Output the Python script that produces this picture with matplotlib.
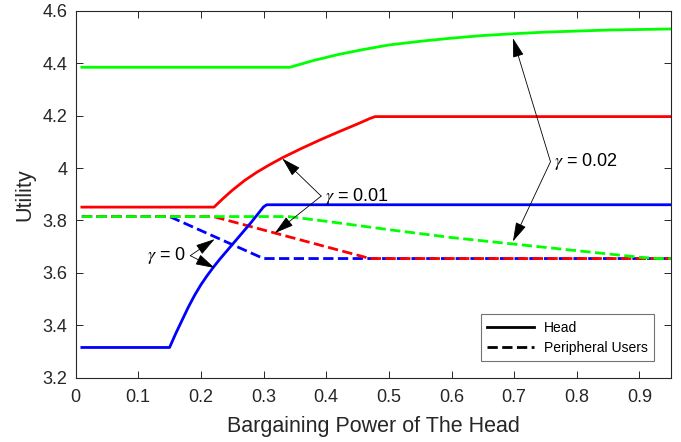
import numpy as np
import matplotlib.pyplot as plt

plt.rcParams['font.family'] = ['Liberation Sans', 'DejaVu Sans']
plt.rcParams['mathtext.fontset'] = 'stix'

# Head utility (solid lines)
x_g0 = [0.01, 0.15, 0.16, 0.17, 0.18, 0.19, 0.20, 0.21, 0.22, 0.23, 0.24,
        0.25, 0.26, 0.27, 0.28, 0.29, 0.30, 0.305, 0.95]
head_g0 = [3.316, 3.316, 3.37, 3.42, 3.47, 3.515, 3.555, 3.59, 3.622, 3.652, 3.68,
           3.708, 3.736, 3.764, 3.792, 3.822, 3.852, 3.86, 3.86]

x_g1 = [0.01, 0.221, 0.235, 0.25, 0.27, 0.29, 0.31, 0.33, 0.36, 0.39, 0.42,
        0.45, 0.47, 0.478, 0.95]
head_g1 = [3.851, 3.851, 3.883, 3.915, 3.953, 3.985, 4.013, 4.039, 4.074, 4.107, 4.138,
           4.168, 4.189, 4.196, 4.196]

x_g2 = [0.01, 0.342, 0.38, 0.42, 0.46, 0.50, 0.55, 0.60, 0.65, 0.70, 0.75, 0.80, 0.85, 0.90, 0.95]
head_g2 = [4.384, 4.384, 4.41, 4.433, 4.452, 4.469, 4.483, 4.495, 4.505, 4.512, 4.518, 4.522, 4.526, 4.528, 4.53]

# Peripheral users utility (dashed lines)
x_p0 = [0.01, 0.15, 0.30, 0.95]
per_g0 = [3.815, 3.815, 3.655, 3.655]

x_p1 = [0.01, 0.22, 0.47, 0.95]
per_g1 = [3.815, 3.815, 3.655, 3.655]

x_p2 = [0.01, 0.34, 0.40, 0.50, 0.60, 0.70, 0.80, 0.90, 0.93, 0.95]
per_g2 = [3.815, 3.815, 3.797, 3.765, 3.735, 3.71, 3.685, 3.66, 3.655, 3.655]

fig = plt.figure(figsize=(6.81, 4.42), dpi=100)
ax = fig.add_axes([0.111, 0.145, 0.874, 0.831])

# dashed first so the solid curves sit on top
ax.plot(x_p0, per_g0, color=(0, 0, 1), lw=2, linestyle='--')
ax.plot(x_p1, per_g1, color=(1, 0, 0), lw=2, linestyle='--')
ax.plot(x_p2, per_g2, color=(0, 1, 0), lw=2, linestyle='--')
ax.plot(x_g2, head_g2, color=(0, 1, 0), lw=2)
ax.plot(x_g1, head_g1, color=(1, 0, 0), lw=2)
ax.plot(x_g0, head_g0, color=(0, 0, 1), lw=2)

# legend uses black proxy lines
ax.plot([], [], color='k', lw=2, label='Head')
ax.plot([], [], color='k', lw=2, linestyle='--', label='Peripheral Users')
leg = ax.legend(loc='lower right', fontsize=10, fancybox=False, framealpha=1,
                borderaxespad=1.2, handlelength=3.4, labelspacing=0.45,
                handletextpad=0.7, borderpad=0.45)
leg.get_frame().set_edgecolor('0.45')
leg.get_frame().set_linewidth(0.8)

ax.set_xlim(0, 0.95)
ax.set_ylim(3.2, 4.6)
ax.set_xticks(np.arange(0, 0.91, 0.1))
ax.set_xticklabels(['0', '0.1', '0.2', '0.3', '0.4', '0.5', '0.6', '0.7', '0.8', '0.9'])
ax.set_yticks([3.2, 3.4, 3.6, 3.8, 4.0, 4.2, 4.4, 4.6])
ax.set_yticklabels(['3.2', '3.4', '3.6', '3.8', '4', '4.2', '4.4', '4.6'])
ax.tick_params(direction='in', top=True, right=True, length=5, width=0.7,
               labelsize=13, colors='0.15')
ax.tick_params(axis='x', pad=8)
ax.tick_params(axis='y', pad=6)
for s in ax.spines.values():
    s.set_linewidth(0.8)
    s.set_color('0.15')

ax.set_xlabel('Bargaining Power of The Head', fontsize=15.5, color='0.15')
ax.set_ylabel('Utility', fontsize=15.5, color='0.15')
ax.xaxis.set_label_coords(0.5, -0.133)
ax.xaxis.label.set_va('center')
ax.yaxis.set_label_coords(-0.085, 0.5)
ax.yaxis.label.set_va('center')

# annotations: text at an elbow, two arrows out to the curves
arrow = dict(arrowstyle='-|>,head_length=1.2,head_width=0.34', lw=0.6,
             color='k', shrinkA=0, shrinkB=0)

notes = [
    (r'$\gamma$ = 0.02', (0.758, 4.024), [(0.698, 4.495), (0.698, 3.72)]),
    (r'$\gamma$ = 0.01', (0.392, 3.893), [(0.330, 4.036), (0.318, 3.752)]),
    (r'$\gamma$ = 0', (0.183, 3.666), [(0.222, 3.729), (0.222, 3.619)]),
]
for txt, elbow, tips in notes:
    for tip in tips:
        ax.annotate('', xy=tip, xytext=elbow, arrowprops=arrow)
    if txt.endswith('= 0'):
        ax.text(elbow[0] - 0.006, elbow[1], txt, ha='right', va='center', fontsize=13)
    else:
        ax.text(elbow[0] + 0.006, elbow[1], txt, ha='left', va='center', fontsize=13)

plt.savefig('out.png', dpi=100)
